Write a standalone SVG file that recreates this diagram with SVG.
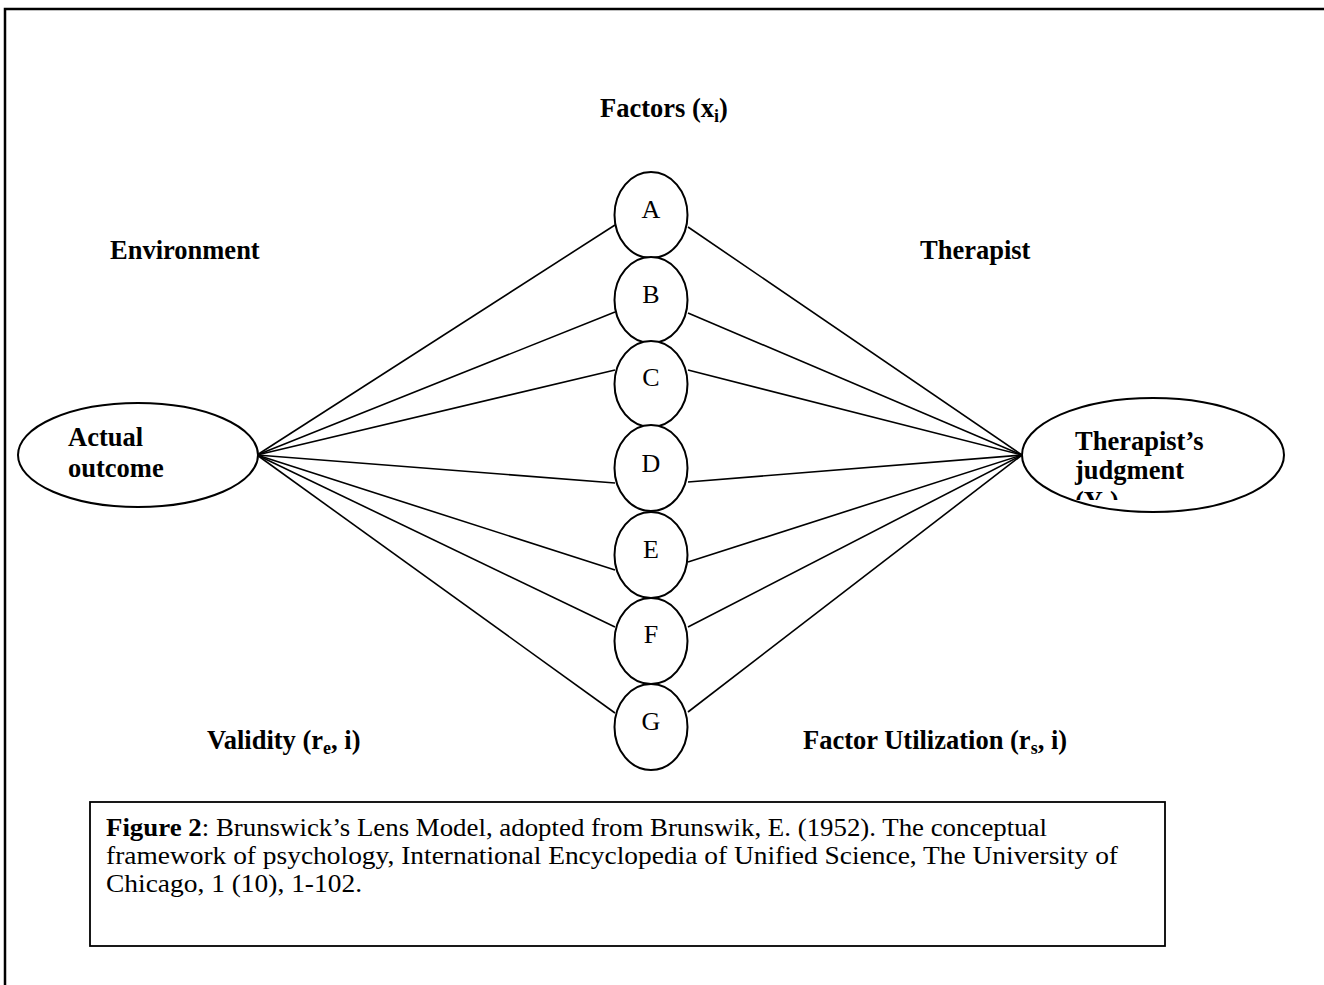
<svg xmlns="http://www.w3.org/2000/svg" width="1324" height="985" viewBox="0 0 1324 985">
<style>
.b{font-family:"Liberation Serif","Times New Roman",serif;font-weight:bold;font-size:26.5px;fill:#000}
.r{font-family:"Liberation Serif","Times New Roman",serif;font-size:26px;fill:#000}
.c{font-family:"Liberation Serif","Times New Roman",serif;font-size:25px;fill:#000}
.n{fill:#fff;stroke:#000;stroke-width:2}
.e{stroke:#000;stroke-width:1.6;fill:none}
</style>
<defs>
<clipPath id="clipR"><rect x="1020" y="395" width="270" height="105"/></clipPath>
</defs>
<rect x="5" y="9" width="1340" height="1000" fill="#fff" stroke="#000" stroke-width="2.5"/>
<g id="connectors">
<line class="e" x1="257" y1="455" x2="615" y2="225"/>
<line class="e" x1="257" y1="455" x2="615" y2="312"/>
<line class="e" x1="257" y1="455" x2="615" y2="370"/>
<line class="e" x1="257" y1="455" x2="615" y2="483"/>
<line class="e" x1="257" y1="455" x2="615" y2="570"/>
<line class="e" x1="257" y1="455" x2="615" y2="627"/>
<line class="e" x1="257" y1="455" x2="615" y2="713"/>
<line class="e" x1="1022" y1="455" x2="688" y2="227"/>
<line class="e" x1="1022" y1="455" x2="688" y2="313"/>
<line class="e" x1="1022" y1="455" x2="688" y2="370"/>
<line class="e" x1="1022" y1="455" x2="688" y2="482"/>
<line class="e" x1="1022" y1="455" x2="688" y2="562"/>
<line class="e" x1="1022" y1="455" x2="688" y2="627"/>
<line class="e" x1="1022" y1="455" x2="688" y2="712"/>
</g>
<g id="labels">
<text class="b" x="600" y="117">Factors (x<tspan font-size="18" dy="5">i</tspan><tspan dy="-5">)</tspan></text>
<text class="b" x="110" y="259">Environment</text>
<text class="b" x="920" y="259">Therapist</text>
<text class="b" x="207" y="749">Validity (r<tspan font-size="18" dy="5">e</tspan><tspan dy="-5">, i)</tspan></text>
<text class="b" x="803" y="749">Factor Utilization (r<tspan font-size="18" dy="5">s</tspan><tspan dy="-5">, i)</tspan></text>
</g>
<g id="actual">
<ellipse class="n" cx="138" cy="455" rx="120" ry="52"/>
<text class="b" x="68" y="446">Actual</text>
<text class="b" x="68" y="477">outcome</text>
</g>
<g id="judgment">
<ellipse class="n" cx="1153" cy="455" rx="131" ry="57"/>
<g clip-path="url(#clipR)">
<text class="b" x="1075" y="450">Therapist’s</text>
<text class="b" x="1075" y="479">judgment</text>
<text class="b" x="1075" y="510">(Y<tspan font-size="18" dy="5">s</tspan><tspan dy="-5">)</tspan></text>
</g>
</g>
<g id="nA"><ellipse class="n" cx="651" cy="215" rx="36.5" ry="43"/><text class="r" x="651" y="218" text-anchor="middle">A</text></g>
<g id="nB"><ellipse class="n" cx="651" cy="300" rx="36.5" ry="43"/><text class="r" x="651" y="303" text-anchor="middle">B</text></g>
<g id="nC"><ellipse class="n" cx="651" cy="384" rx="36.5" ry="43"/><text class="r" x="651" y="386" text-anchor="middle">C</text></g>
<g id="nD"><ellipse class="n" cx="651" cy="468" rx="36.5" ry="43"/><text class="r" x="651" y="472" text-anchor="middle">D</text></g>
<g id="nE"><ellipse class="n" cx="651" cy="555" rx="36.5" ry="43"/><text class="r" x="651" y="558" text-anchor="middle">E</text></g>
<g id="nF"><ellipse class="n" cx="651" cy="641" rx="36.5" ry="43"/><text class="r" x="651" y="643" text-anchor="middle">F</text></g>
<g id="nG"><ellipse class="n" cx="651" cy="727" rx="36.5" ry="43"/><text class="r" x="651" y="730" text-anchor="middle">G</text></g>
<g id="caption">
<rect x="90" y="802" width="1075" height="144" fill="#fff" stroke="#000" stroke-width="1.8"/>
<text class="c" x="106" y="836" textLength="941" lengthAdjust="spacingAndGlyphs"><tspan font-weight="bold">Figure 2</tspan>: Brunswick’s Lens Model, adopted from Brunswik, E. (1952). The conceptual</text>
<text class="c" x="106" y="864" textLength="1012" lengthAdjust="spacingAndGlyphs">framework of psychology, International Encyclopedia of Unified Science, The University of</text>
<text class="c" x="106" y="892" textLength="256" lengthAdjust="spacingAndGlyphs">Chicago, 1 (10), 1-102.</text>
</g>
</svg>
